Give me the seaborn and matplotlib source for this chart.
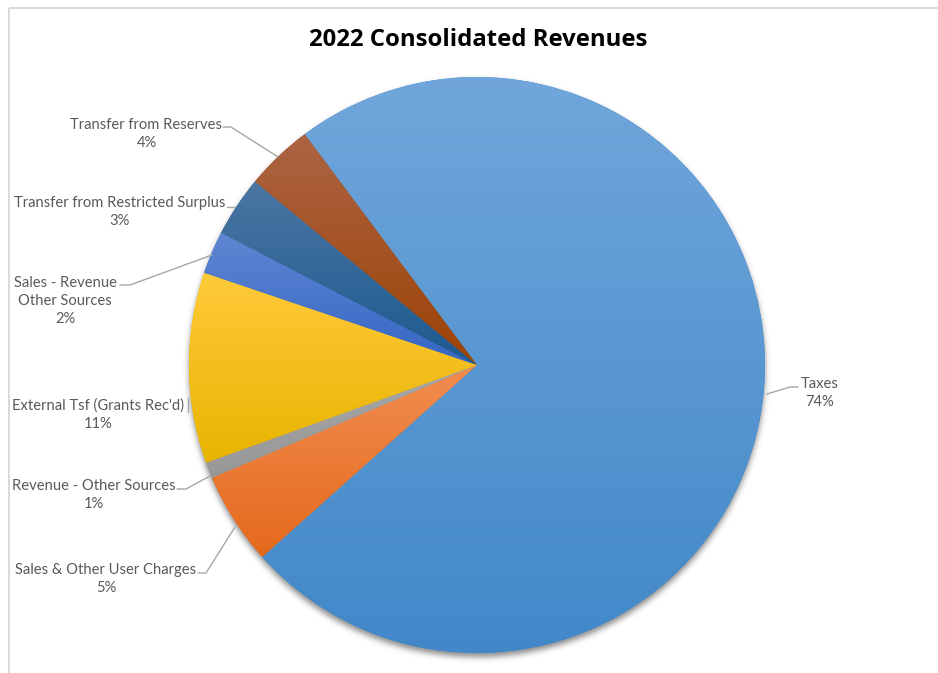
import numpy as np
import matplotlib
matplotlib.use("Agg")
import matplotlib.pyplot as plt
import seaborn as sns
from matplotlib.colors import to_rgb

# ---- data -------------------------------------------------------------
title = "2022 Consolidated Revenues"
categories = [
    "Taxes",
    "Sales & Other User Charges",
    "Revenue - Other Sources",
    "External Tsf (Grants Rec'd)",
    "Sales - Revenue\nOther Sources",
    "Transfer from Restricted Surplus",
    "Transfer from Reserves",
]
shares = [73.6, 5.2, 0.9, 10.7, 2.4, 3.4, 3.8]

# ---- styling ----------------------------------------------------------
top_colors = ["#70a6db", "#f18d50", "#a8a8a8", "#ffca3a", "#5f87d2", "#4b76a3", "#ad6444"]
bottom_colors = ["#4288c9", "#e5691c", "#979797", "#e8b400", "#3566c5", "#1c5a90", "#9c4306"]

sns.set_theme(style="white")
plt.rcParams["font.family"] = ["Lato", "DejaVu Sans"]

W, H = 938, 673
fig = plt.figure(figsize=(W / 100, H / 100), dpi=100)
ax = fig.add_axes([0, 0, 1, 1])

cx, cy, R = 477, H - 365, 288


def blur(a, s):
    k = np.arange(-int(3 * s), int(3 * s) + 1)
    g = np.exp(-k ** 2 / (2.0 * s * s))
    g /= g.sum()
    a = np.array([np.convolve(r, g, mode="same") for r in a])
    a = np.array([np.convolve(c, g, mode="same") for c in a.T]).T
    return a


# soft drop shadow below the pie
yy, xx = np.mgrid[0:H, 0:W] + 0.5
d = np.hypot(xx - cx, yy - (cy - 4))
disk = np.clip(R + 0.5 - d, 0, 1)
alpha = blur(disk, 3.0) * 0.6
shadow = np.zeros((H, W, 4))
shadow[..., :3] = 0.25
shadow[..., 3] = alpha
ax.imshow(shadow, extent=[0, W, 0, H], origin="lower", zorder=0, interpolation="bilinear")

wedges, _ = ax.pie(
    shares,
    colors=bottom_colors,
    startangle=126.75,
    counterclock=False,
    radius=R,
    center=(cx, cy),
    wedgeprops=dict(linewidth=0),
)

# vertical gradient inside each slice
for w, ct, cb in zip(wedges, top_colors, bottom_colors):
    w.set_zorder(1)
    ext = w.get_path().get_extents()
    t = np.linspace(0, 1, 256)[:, None]
    grad = (1 - t) * np.array(to_rgb(cb)) + t * np.array(to_rgb(ct))
    grad = grad[:, None, :]
    im = ax.imshow(
        grad,
        extent=[ext.x0, ext.x1, ext.y0, ext.y1],
        origin="lower",
        aspect="auto",
        zorder=2,
        interpolation="bilinear",
    )
    im.set_clip_path(w)

ax.set_xlim(0, W)
ax.set_ylim(0, H)
ax.set_aspect("auto")
ax.axis("off")

# chart area border
border = "#d9d9d9"
ax.plot([8.5, 8.5], [0, H - 7.5], color=border, lw=1.4, zorder=5, solid_capstyle="butt")
ax.plot([8.5, W], [H - 7.5, H - 7.5], color=border, lw=1.4, zorder=5, solid_capstyle="butt")

ax.text(478, H - 40, title, ha="center", va="center", fontsize=17.2,
        fontweight="bold", color="black", zorder=5,
        family=["Open Sans", "DejaVu Sans"])

# data labels with leader lines
total = sum(shares)
label_pos = [(820, 393), (106, 579), (94, 495), (98, 415), (65, 301), (119.5, 212), (146.5, 134)]
leaders = [
    [(798, 387), (790, 387), (767, 394)],
    [(198, 573), (206, 573), (235, 527)],
    [(177, 489), (186, 489), (210, 476)],
    [(188, 398), (188, 412)],
    [(120, 285), (130, 285), (212, 255)],
    [(227, 207), (235, 207)],
    [(223, 127), (231, 127), (278, 157)],
]
for name, s, (lx, ly), pts in zip(categories, shares, label_pos, leaders):
    pct = f"{s / total * 100:.0f}%"
    ax.text(lx, H - ly, f"{name}\n{pct}", ha="center", va="center",
            multialignment="center", fontsize=10.6, color="#595959",
            linespacing=1.4, zorder=5)
    xs = [p[0] for p in pts]
    ys = [H - p[1] for p in pts]
    ax.plot(xs, ys, color="#a6a6a6", lw=1.0, zorder=4)

fig.savefig("out.png", dpi=100)
